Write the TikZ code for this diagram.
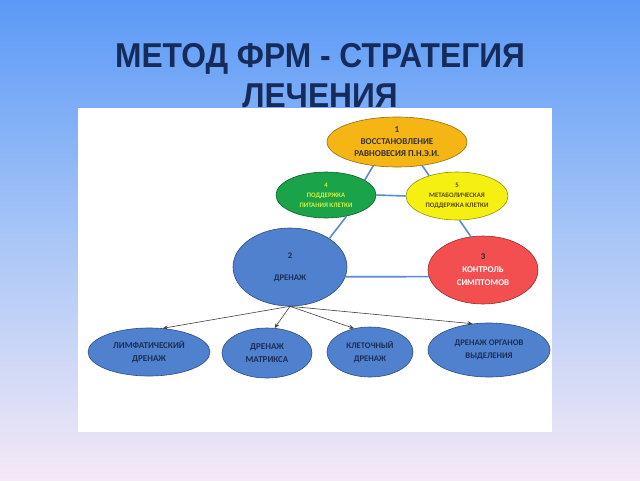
\documentclass[tikz,border=0pt]{standalone}
\usepackage{fontspec}
\setmainfont{Carlito}
\newfontfamily\titlefont{Liberation Sans}
\usetikzlibrary{shapes.geometric,arrows.meta}
\definecolor{bgtop}{HTML}{5A99F6}
\definecolor{bgmid}{HTML}{A9C6F6}
\definecolor{bgbot}{HTML}{F4E9F6}
\definecolor{titlecol}{HTML}{142B5C}
\definecolor{cOrange}{HTML}{F5B514}
\definecolor{cGreen}{HTML}{1AA348}
\definecolor{cYellow}{HTML}{F5F011}
\definecolor{cBlue}{HTML}{4F81CF}
\definecolor{cRed}{HTML}{F44F50}
\definecolor{linkcol}{HTML}{5B8BD0}
\definecolor{navytext}{HTML}{1C2D55}
\definecolor{greentext}{HTML}{D6F03A}
\definecolor{olivetext}{HTML}{5A4A10}
\tikzset{
  oval/.style={ellipse, draw=#1!60!black, line width=0.6pt, fill=#1, inner sep=0pt, align=center},
  link/.style={draw=linkcol, line width=1.6pt},
  arr/.style={draw=black!75, line width=0.6pt, -{Stealth[length=5pt,width=4pt]}},
  ttl/.style={font=\titlefont\bfseries\fontsize{34.5}{40}\selectfont, text=titlecol, anchor=base, inner sep=0pt}
}
\begin{document}
\begin{tikzpicture}[x=1pt,y=-1pt]
\useasboundingbox (0,0) rectangle (640,480);
\shade[top color=bgtop, bottom color=bgbot, middle color=bgmid] (0,0) rectangle (640,480);
\fill[white] (78,108) rectangle (552,432);
\node[ttl] (t1) at (320,67) {\scalebox{0.92}[1]{МЕТОД ФРМ - СТРАТЕГИЯ}};
\node[ttl] (t2) at (320,107) {\scalebox{0.92}[1]{ЛЕЧЕНИЯ}};

\node[oval=cOrange, minimum width=140pt, minimum height=50pt, font=\bfseries\fontsize{9}{12}\selectfont, text=black!80] (n1) at (397,142) {1\\ВОССТАНОВЛЕНИЕ\\РАВНОВЕСИЯ П.Н.Э.И.};
\node[oval=cGreen, minimum width=100pt, minimum height=46pt, font=\bfseries\fontsize{6.8}{10}\selectfont, text=greentext] (n4) at (326,195) {4\\ПОДДЕРЖКА\\ПИТАНИЯ КЛЕТКИ};
\node[oval=cYellow, minimum width=102pt, minimum height=48pt, font=\bfseries\fontsize{6.8}{10}\selectfont, text=olivetext] (n5) at (457,196) {5\\МЕТАБОЛИЧЕСКАЯ\\ПОДДЕРЖКА КЛЕТКИ};
\node[oval=cBlue, minimum width=114pt, minimum height=78pt, font=\bfseries\fontsize{8.6}{12}\selectfont, text=navytext] (n2) at (290,267) {2\\[10pt]ДРЕНАЖ};
\node[oval=cRed, minimum width=110pt, minimum height=68pt, font=\bfseries\fontsize{8.8}{13}\selectfont, text=white] (n3) at (483,270) {{\color{black!85}3}\\КОНТРОЛЬ\\СИМПТОМОВ};

\node[oval=cBlue, minimum width=122pt, minimum height=48pt, font=\bfseries\fontsize{9}{13}\selectfont, text=navytext] (b1) at (149,352) {ЛИМФАТИЧЕСКИЙ\\ДРЕНАЖ};
\node[oval=cBlue, minimum width=90pt, minimum height=50pt, font=\bfseries\fontsize{9}{13.5}\selectfont, text=navytext] (b2) at (267,353) {ДРЕНАЖ\\МАТРИКСА};
\node[oval=cBlue, minimum width=86pt, minimum height=50pt, font=\bfseries\fontsize{8.6}{13}\selectfont, text=navytext] (b3) at (370,352) {КЛЕТОЧНЫЙ\\ДРЕНАЖ};
\node[oval=cBlue, minimum width=122pt, minimum height=54pt, font=\bfseries\fontsize{8.6}{13}\selectfont, text=navytext] (b4) at (489,350) {ДРЕНАЖ ОРГАНОВ\\ВЫДЕЛЕНИЯ};

\draw[link] (n1.225) -- (n4.21);
\draw[link] (n1.317) -- (n5.144);
\draw[link] (n4.east) -- (n5.west);
\draw[link] (n4.314) -- (n2.36);
\draw[link] (n5.276) -- (n3.110);
\draw[link] (n2.350) -- (n3.187);

\draw[arr] (n2.south) -- (b1.60);
\draw[arr] (n2.south) -- (b2.73);
\draw[arr] (n2.south) -- (b3.124);
\draw[arr] (n2.south) -- (b4.122);
\end{tikzpicture}
\end{document}
